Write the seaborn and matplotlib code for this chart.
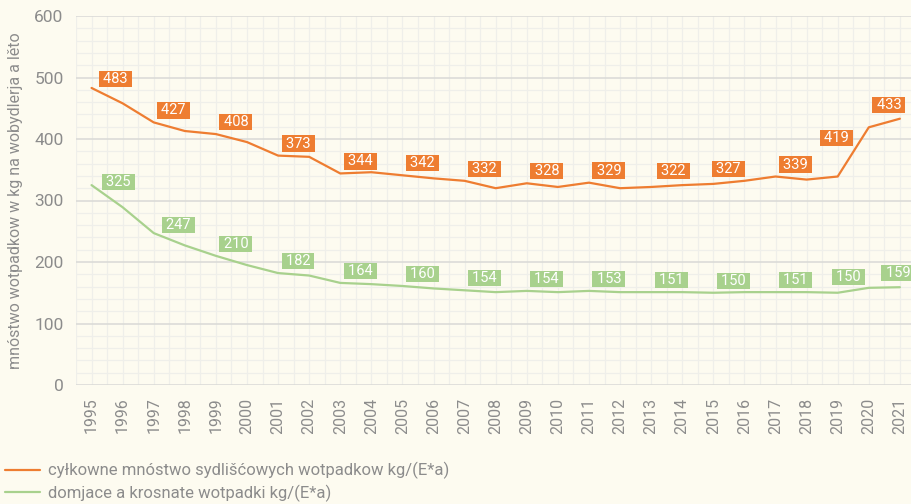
import matplotlib
matplotlib.use('Agg')
import matplotlib.pyplot as plt
import seaborn as sns
import pandas as pd
from matplotlib.ticker import MultipleLocator
from matplotlib.lines import Line2D

# ---------------- data ----------------
years = list(range(1995, 2022))
total = [483, 458, 427, 413, 408, 395, 373, 371, 344, 346, 341, 336, 332, 320, 328, 322,
         329, 320, 322, 325, 327, 332, 339, 334, 339, 419, 433]
household = [325, 289, 247, 227, 210, 195, 182, 178, 166, 164, 161, 157, 154, 151, 153, 151,
             153, 151, 151, 151, 150, 151, 151, 151, 150, 158, 159]
series_names = ["cyłkowne mnóstwo sydlišćowych wotpadkow kg/(E*a)",
                "domjace a krosnate wotpadki kg/(E*a)"]
total_label_years = [1995, 1997, 1999, 2001, 2003, 2005, 2007, 2009, 2011, 2013, 2015, 2017, 2020, 2021]
total_label_values = [483, 427, 408, 373, 344, 342, 332, 328, 329, 322, 327, 339, 419, 433]
household_label_years = [1995, 1997, 1999, 2001, 2003, 2005, 2007, 2009, 2011, 2013, 2015, 2017, 2019, 2021]
household_label_values = [325, 247, 210, 182, 164, 160, 154, 154, 153, 151, 150, 151, 150, 159]
y_label = "mnóstwo wotpadkow w kg na wobydlerja a lěto"

# ---------------- style ----------------
ORANGE = "#ee7d31"
GREEN = "#a8d18d"
BG = "#fdfbf0"
GREY = "#8c8c8c"

sns.set_theme(style="white")
plt.rcParams['font.family'] = ['Roboto', 'DejaVu Sans']

df = pd.DataFrame({
    "year": years * 2,
    "value": total + household,
    "series": [series_names[0]] * len(years) + [series_names[1]] * len(years),
})

fig = plt.figure(figsize=(9.12, 5.04), dpi=100, facecolor=BG)
ax = fig.add_axes([76 / 912, 1 - 385 / 504, 1 - 76 / 912, (385 - 16) / 504])
ax.set_facecolor(BG)

sns.lineplot(data=df, x="year", y="value", hue="series",
             palette=[ORANGE, GREEN], linewidth=1.6, ax=ax, legend=False, zorder=3)

ax.set_xlim(1994.5, 2021.39)
ax.set_ylim(0, 600)
ax.xaxis.set_major_locator(MultipleLocator(1))
ax.xaxis.set_minor_locator(MultipleLocator(0.5))
ax.yaxis.set_major_locator(MultipleLocator(100))
ax.yaxis.set_minor_locator(MultipleLocator(20))
ax.grid(which='minor', axis='both', color='#efefea', linewidth=0.9, zorder=0)
ax.grid(which='major', axis='x', color='#efefea', linewidth=0.9, zorder=0)
ax.grid(which='major', axis='y', color='#d9d9d6', linewidth=1.1, zorder=1)
ax.set_axisbelow(True)
for s in ax.spines.values():
    s.set_visible(False)

ax.set_xticks(years)
ax.set_xticklabels([str(y) for y in years], rotation=90, fontsize=11.5, color=GREY)
ax.tick_params(axis='x', which='both', length=0, pad=9)
ax.tick_params(axis='y', which='both', length=0, pad=9, labelsize=12.5, labelcolor=GREY)
ax.set_xlabel("")
ax.set_ylabel(y_label, fontsize=11.5, color=GREY, labelpad=8)


def add_labels(lyears, lvalues, color, special):
    for yr, val in zip(lyears, lvalues):
        yv = (total if color == ORANGE else household)[years.index(yr)]
        dx, dy = special.get(yr, (20, 12))
        ax.annotate("\u2009" + str(val) + "\u2009", xy=(yr, yv), xytext=(dx * 0.72, dy * 0.72),
                    textcoords='offset points', ha='center', va='center',
                    fontsize=10.5, color='white', zorder=5, annotation_clip=False,
                    bbox=dict(boxstyle='square,pad=0.08', fc=color, ec='none'))


add_labels(total_label_years, total_label_values, ORANGE,
           {1995: (24, 9), 2013: (22, 16), 2015: (15, 15), 2020: (-32, -11), 2021: (-11, 14)})
add_labels(household_label_years, household_label_values, GREEN,
           {1995: (27, 3), 1997: (25, 8), 2019: (11, 16), 2021: (-2, 14)})

handles = [Line2D([], [], color=ORANGE, linewidth=1.6),
           Line2D([], [], color=GREEN, linewidth=1.6)]
leg = fig.legend(handles, series_names, loc='upper left', bbox_to_anchor=(0.0, 1 - 457 / 504),
                 frameon=False, fontsize=12, handlelength=2.1, handletextpad=0.5,
                 labelspacing=0.3, borderaxespad=0, borderpad=0.3)
for t in leg.get_texts():
    t.set_color(GREY)

fig.savefig("out.png", dpi=100, facecolor=BG)
